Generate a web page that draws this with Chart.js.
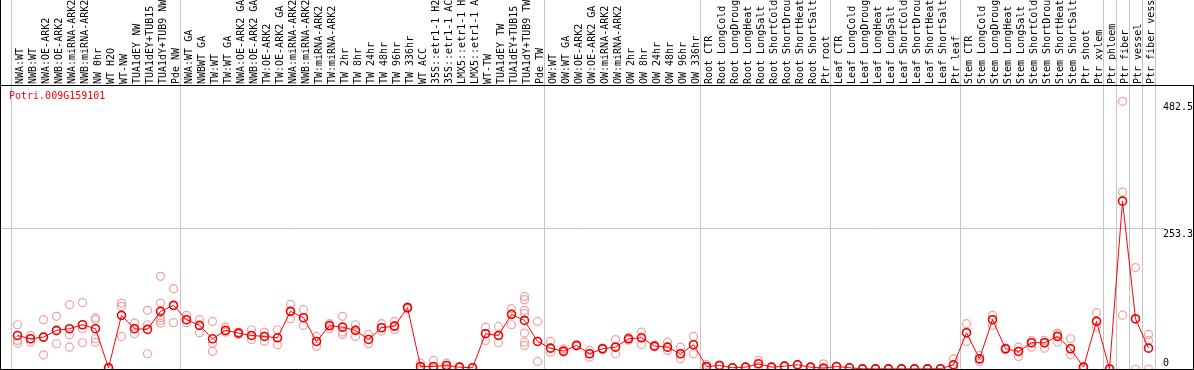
<!DOCTYPE html>
<html>
<head>
<meta charset="utf-8">
<script src="https://cdn.jsdelivr.net/npm/chart.js@4"></script>
<style>
  html, body { margin: 0; padding: 0; background: #fff; }
  #wrap { width: 1194px; height: 370px; }
</style>
</head>
<body>
<div id="wrap"><canvas id="exprChart"></canvas></div>
<script>
const geneName = 'Potri.009G159101';

const samples = [
  'NWA:WT', 'NWB:WT', 'NWA:OE-ARK2', 'NWB:OE-ARK2', 'NWA:miRNA-ARK2', 'NWB:miRNA-ARK2', 'NW 0hr', 'WT H2O',
  'WT-NW', 'TUA1dEY NW', 'TUA1dEY+TUB15 NW', 'TUA1dY+TUB9 NW', 'Pde NW',
  'NWA:WT GA', 'NWBWT GA', 'TW:WT', 'TW:WT GA', 'NWA:OE-ARK2 GA', 'NWB:OE-ARK2 GA', 'TW:OE-ARK2', 'TW:OE-ARK2 GA',
  'NWA:miRNA-ARK2 GA', 'NWB:miRNA-ARK2 GA', 'TW:miRNA-ARK2', 'TW:miRNA-ARK2', 'TW 2hr', 'TW 8hr', 'TW 24hr',
  'TW 48hr', 'TW 96hr', 'TW 336hr', 'WT ACC', '35S::etr1-1 H2O', '35S::etr1-1 ACC', 'LMX5::etr1-1 H2O',
  'LMX5::etr1-1 ACC', 'WT-TW', 'TUA1dEY TW', 'TUA1dEY+TUB15 TW', 'TUA1dY+TUB9 TW', 'Pde TW',
  'OW:WT', 'OW:WT GA', 'OW:OE-ARK2', 'OW:OE-ARK2 GA', 'OW:miRNA-ARK2', 'OW:miRNA-ARK2', 'OW 2hr', 'OW 8hr',
  'OW 24hr', 'OW 48hr', 'OW 96hr', 'OW 336hr',
  'Root CTR', 'Root LongCold', 'Root LongDrought', 'Root LongHeat', 'Root LongSalt', 'Root ShortCold',
  'Root ShortDrought', 'Root ShortHeat', 'Root ShortSalt', 'Ptr root',
  'Leaf CTR', 'Leaf LongCold', 'Leaf LongDrought', 'Leaf LongHeat', 'Leaf LongSalt', 'Leaf ShortCold',
  'Leaf ShortDrought', 'Leaf ShortHeat', 'Leaf ShortSalt', 'Ptr leaf',
  'Stem CTR', 'Stem LongCold', 'Stem LongDrought', 'Stem LongHeat', 'Stem LongSalt', 'Stem ShortCold',
  'Stem ShortDrought', 'Stem ShortHeat', 'Stem ShortSalt', 'Ptr shoot', 'Ptr xylem',
  'Ptr phloem', 'Ptr fiber', 'Ptr vessel', 'Ptr fiber vessel'
];

// index of the first sample of every group (last entry closes the final group)
const groupStarts = [0, 13, 41, 53, 63, 73, 84, 85, 86, 87, 88];

const meanValues = [
  60.5, 54.5, 57.5, 69.6, 72.6, 79.8, 72.6, 2, 96.7, 72.6, 71.4, 103.9, 114.7,
  88.9, 78.6, 54.5, 69.6, 64.7, 60.5, 58.7, 56.3, 103.9, 92.5, 49.7, 78, 75.5, 69.6, 53.3,
  74.4, 77.3, 110.6, 4.5, 4.5, 6.3, 3.3, 2.2, 63.6, 60.5, 98.5, 87.6, 49.7,
  37.6, 32.2, 42.5, 27.5, 36.5, 39.4, 54.5, 56.3, 41.2, 39.4, 27.5, 43.7,
  4.5, 6.3, 2.2, 3.3, 9.4, 3.3, 5.1, 7.6, 3.3, 1.5,
  4.5, 2.2, 0.3, 0.2, 0.2, 0.2, 0.2, 0.2, 0.5, 7.6,
  65.4, 18.4, 88.9, 36.5, 31.6, 47.3, 47.3, 58.7, 36.5, 3.3, 85.8,
  0, 302.6, 90.7, 37.6
];

const replicateValues = [
  [79.8, 51.5, 46.6], [60.5, 48.4, 54.5], [88.9, 25.6, 57.5], [94.9, 45.5, 68.3], [116, 61.8, 39.4],
  [119.6, 72.6, 47.3], [92.5, 88.9, 54.5, 48.4], [1, 2, 3], [118.9, 112.9, 58.7], [82.7, 63.6, 72.6],
  [105.7, 79.8, 27.5], [167, 118.9, 92.5, 87.6, 82.7], [144.9, 83.5, 114.7],
  [96.7, 83.5, 88.9], [88.9, 65.4, 78.6], [85.8, 46.6, 31.6], [75.5, 66.5, 69.6], [66.5, 62.3, 64.7],
  [70.8, 53.3, 60.5], [66.5, 50.2, 58.7], [70.8, 43.7, 56.3], [116.5, 90.7, 103.9], [107, 78.6, 92.5],
  [58.7, 40.7, 49.7], [81.7, 72.6, 79.5], [94.9, 66.5, 62.3], [79.8, 58.7, 70.2], [62.3, 45.5, 53.3],
  [81.7, 68.3, 74.4], [85.8, 70.8, 77.3], [108.5, 112.2, 111], [10.5, 3, 0], [15.4, 4.5, 0],
  [10.5, 6.3, 2.2], [3.3, 2.9, 4], [2.2, 2, 2.4], [75.5, 51.5, 63.6], [76.8, 47.3, 60.5],
  [108.8, 79.8, 98.5], [130.8, 125, 105.7, 99.7, 64.7, 48.4, 42.5], [85.8, 13.6, 49.7],
  [49.7, 30.4, 37.6], [36.5, 30.4, 32.2], [42.5, 41, 44], [33.4, 21.3, 27.5], [36.5, 35, 38],
  [52.8, 27.5, 39.4], [54.5, 52, 57], [66.5, 44.3, 56.3], [41.2, 40, 43], [48.4, 33.4, 39.4],
  [39.4, 18.4, 27.5], [58.7, 27.5, 43.7],
  [8.1, 2.2, 4], [6.3, 5, 7], [2.2, 2, 2.4], [3.3, 3, 3.6], [15.4, 4.5, 9.4], [3.3, 3, 3.6],
  [5.1, 4.6, 5.6], [7.6, 7, 8.2], [3.3, 3, 3.6], [9.4, 0, 0],
  [4.5, 4, 5], [2.2, 2, 2.4], [0.3, 0.2, 0.4], [0.2, 0.2, 0.2], [0.2, 0.2, 0.2], [0.2, 0.2, 0.2],
  [0.2, 0.2, 0.2], [0.2, 0.2, 0.2], [0.5, 0.4, 0.6], [18.4, 7.6, 0],
  [81.7, 49.7, 65.4], [24.4, 13.6, 17.2], [96.7, 78.6, 88.9], [36.5, 35, 38], [39.4, 22.6, 31.6],
  [51.5, 39.4, 47.3], [51.5, 37.6, 47.3], [64.7, 48.4, 58.7, 62], [54.5, 25.6, 36.5], [3.3, 3, 3.6],
  [101.5, 75.5, 85.8],
  [0, 0, 0], [482.5, 319, 97], [182.8, 0, 89.3], [62.3, 51.5, 0]
];

const yTickValues = [0, 253.3, 482.5];
const yGridValues = [253.3];
const yMax = 512;

const monoFont = { family: '"DejaVu Sans Mono", monospace', size: 10 };

// one point-only dataset per replicate slot
const maxReps = Math.max(...replicateValues.map(r => r.length));
const replicateSets = [];
for (let k = 0; k < maxReps; k++) {
  replicateSets.push({
    data: replicateValues.map(r => (r[k] !== undefined ? r[k] : null)),
    showLine: false,
    pointRadius: 4,
    pointBorderWidth: 1.2,
    pointBorderColor: '#f0a0a0',
    pointBackgroundColor: 'rgba(0,0,0,0)',
    order: 2,
    clip: false
  });
}

const framePlugin = {
  id: 'frame',
  beforeDatasetsDraw(chart) {
    const { ctx, chartArea, scales: { x, y } } = chart;
    ctx.save();
    ctx.strokeStyle = '#c4c4c4';
    ctx.lineWidth = 1;
    // group separators run through the label header too
    groupStarts.forEach(i => {
      const px = Math.round(x.getPixelForValue(i - 0.5)) + 0.5;
      ctx.beginPath();
      ctx.moveTo(px, 0);
      ctx.lineTo(px, chartArea.bottom);
      ctx.stroke();
    });
    yGridValues.forEach(v => {
      const py = Math.round(y.getPixelForValue(v)) + 0.5;
      ctx.beginPath();
      ctx.moveTo(0, py);
      ctx.lineTo(chartArea.right + 10, py);
      ctx.stroke();
    });
    ctx.restore();
  },
  afterDraw(chart) {
    const { ctx, chartArea, width, height } = chart;
    ctx.save();
    ctx.strokeStyle = '#000';
    ctx.lineWidth = 1;
    ctx.beginPath();
    ctx.moveTo(0, chartArea.top + 0.5);
    ctx.lineTo(width, chartArea.top + 0.5);
    ctx.moveTo(0, chartArea.bottom + 0.5);
    ctx.lineTo(width, chartArea.bottom + 0.5);
    ctx.moveTo(0.5, 0);
    ctx.lineTo(0.5, height);
    ctx.moveTo(width - 0.5, chartArea.top);
    ctx.lineTo(width - 0.5, height);
    ctx.stroke();
    ctx.fillStyle = '#ff0000';
    ctx.font = '10px "DejaVu Sans Mono", monospace';
    ctx.textBaseline = 'top';
    ctx.fillText(geneName, 9, chartArea.top + 6);
    ctx.restore();
  }
};

const ctx = document.getElementById('exprChart').getContext('2d');

new Chart(ctx, {
  type: 'line',
  data: {
    labels: samples,
    datasets: [{
      data: meanValues,
      borderColor: '#ff0000',
      borderWidth: 1,
      pointRadius: 4,
      pointBorderWidth: 1.6,
      pointBorderColor: '#ee0000',
      pointBackgroundColor: 'rgba(0,0,0,0)',
      tension: 0,
      order: 1,
      clip: false
    }].concat(replicateSets)
  },
  options: {
    responsive: true,
    maintainAspectRatio: false,
    animation: false,
    layout: { autoPadding: false, padding: { left: 11, right: 0, top: 0, bottom: 1 } },
    plugins: {
      legend: { display: false },
      tooltip: { enabled: false }
    },
    scales: {
      x: {
        type: 'category',
        position: 'top',
        offset: true,
        grid: { display: false },
        border: { display: false },
        ticks: {
          autoSkip: false,
          minRotation: 90,
          maxRotation: 90,
          padding: -7,
          labelOffset: 15,
          color: '#000',
          font: monoFont
        },
        afterFit(scale) {
          scale.height = 85;
          scale.paddingLeft = 0;
          scale.paddingRight = 0;
        }
      },
      y: {
        position: 'right',
        min: 0,
        max: yMax,
        grid: { display: false, drawTicks: false },
        border: { display: false },
        afterBuildTicks(scale) {
          scale.ticks = yTickValues.map(v => ({ value: v }));
        },
        ticks: {
          padding: 8,
          color: '#000',
          font: monoFont,
          // empty second line nudges the label half a line, as in the original
          callback: (v) => (v === 0 ? [String(v), ''] : ['', String(v)])
        },
        afterFit(scale) {
          scale.width = 39;
          scale.paddingTop = 0;
          scale.paddingBottom = 0;
        }
      }
    }
  },
  plugins: [framePlugin]
});
</script>
</body>
</html>
